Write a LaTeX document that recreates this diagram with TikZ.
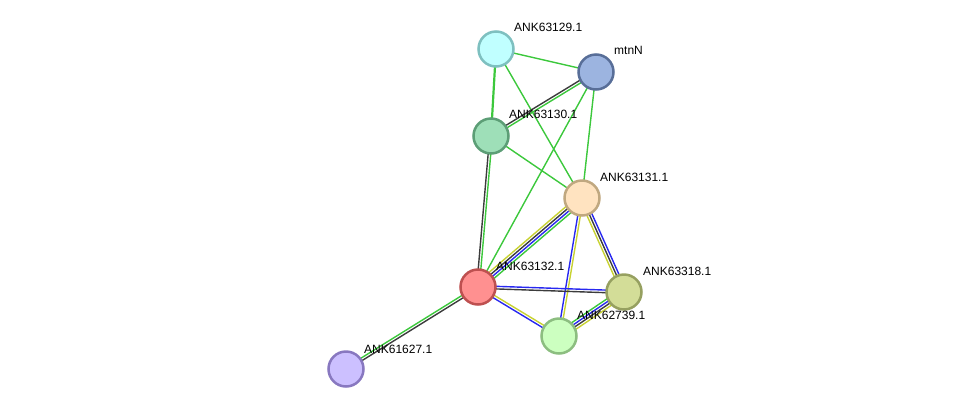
\documentclass[tikz,border=0pt]{standalone}
\usepackage{fontspec}
\setmainfont{Liberation Sans}
\usetikzlibrary{calc}
\definecolor{eg}{RGB}{60,200,60}
\definecolor{ey}{RGB}{200,210,50}
\definecolor{eb}{RGB}{40,40,240}
\definecolor{ek}{RGB}{60,60,60}
\definecolor{d129}{RGB}{126,192,192}\definecolor{f129}{RGB}{192,255,255}
\definecolor{dmtn}{RGB}{88,110,152}\definecolor{fmtn}{RGB}{156,180,224}
\definecolor{d130}{RGB}{92,158,118}\definecolor{f130}{RGB}{158,223,184}
\definecolor{d131}{RGB}{192,168,128}\definecolor{f131}{RGB}{255,227,192}
\definecolor{d132}{RGB}{190,80,80}\definecolor{f132}{RGB}{255,144,144}
\definecolor{d318}{RGB}{150,160,96}\definecolor{f318}{RGB}{211,221,152}
\definecolor{d739}{RGB}{140,190,128}\definecolor{f739}{RGB}{204,255,192}
\definecolor{d627}{RGB}{136,120,192}\definecolor{f627}{RGB}{204,192,255}
\newcommand{\eline}[4]{\draw[#4, line width=1.4pt] ($(#1.center)!#3!90:(#2.center)$) -- ($(#2.center)!#3!-90:(#1.center)$);}
\begin{document}
\begin{tikzpicture}[x=1pt,y=-1pt,
  prot/.style={circle, minimum size=35pt, inner sep=0pt, line width=2.5pt, draw=d#1, fill=f#1},
  lbl/.style={anchor=west, inner sep=0pt, font=\fontsize{12}{14}\selectfont}]
\useasboundingbox (0,0) rectangle (975,416);
\coordinate (p129) at (496,49);
\coordinate (mtn) at (596,72);
\coordinate (p130) at (491,136);
\coordinate (p131) at (582,198);
\coordinate (p132) at (478,287);
\coordinate (p318) at (624,292);
\coordinate (p739) at (559,336);
\coordinate (p627) at (346,369);
% edges
\eline{p129}{mtn}{0pt}{eg}
\draw[eg, line width=2.2pt] (p129) -- (p130);
\eline{p129}{p131}{0pt}{eg}
\eline{mtn}{p130}{-1.3pt}{ek}
\eline{mtn}{p130}{1.3pt}{eg}
\eline{mtn}{p132}{0pt}{eg}
\eline{mtn}{p131}{0pt}{eg}
\eline{p130}{p131}{0pt}{eg}
\eline{p130}{p132}{-1.3pt}{ek}
\eline{p130}{p132}{1.3pt}{eg}
\eline{p131}{p132}{-3.9pt}{ey}
\eline{p131}{p132}{-1.3pt}{ek}
\eline{p131}{p132}{1.3pt}{eb}
\eline{p131}{p132}{3.9pt}{eg}
\eline{p131}{p318}{-2.6pt}{ey}
\eline{p131}{p318}{0pt}{ek}
\eline{p131}{p318}{2.6pt}{eb}
\eline{p131}{p739}{-1.3pt}{eb}
\eline{p131}{p739}{1.3pt}{ey}
\eline{p132}{p318}{1.3pt}{eb}
\eline{p132}{p318}{-1.3pt}{ek}
\eline{p132}{p739}{1.3pt}{ey}
\eline{p132}{p739}{-1.3pt}{eb}
\eline{p318}{p739}{-3.9pt}{eg}
\eline{p318}{p739}{-1.3pt}{eb}
\eline{p318}{p739}{1.3pt}{ek}
\eline{p318}{p739}{3.9pt}{ey}
\eline{p132}{p627}{-1.3pt}{eg}
\eline{p132}{p627}{1.3pt}{ek}
% protein nodes
\node[prot=129] (n129) at (p129) {};
\node[prot=mtn] (nmtn) at (mtn) {};
\node[prot=130] (n130) at (p130) {};
\node[prot=131] (n131) at (p131) {};
\node[prot=132] (n132) at (p132) {};
\node[prot=318] (n318) at (p318) {};
\node[prot=739] (n739) at (p739) {};
\node[prot=627] (n627) at (p627) {};
% labels
\node[lbl] (l129) at (514,27) {ANK63129.1};
\node[lbl] (lmtn) at (614,50) {mtnN};
\node[lbl] (l130) at (509,114) {ANK63130.1};
\node[lbl] (l131) at (600,177) {ANK63131.1};
\node[lbl] (l132) at (496,266) {ANK63132.1};
\node[lbl] (l318) at (643,271) {ANK63318.1};
\node[lbl] (l739) at (577,315) {ANK62739.1};
\node[lbl] (l627) at (364,349) {ANK61627.1};
\end{tikzpicture}
\end{document}
